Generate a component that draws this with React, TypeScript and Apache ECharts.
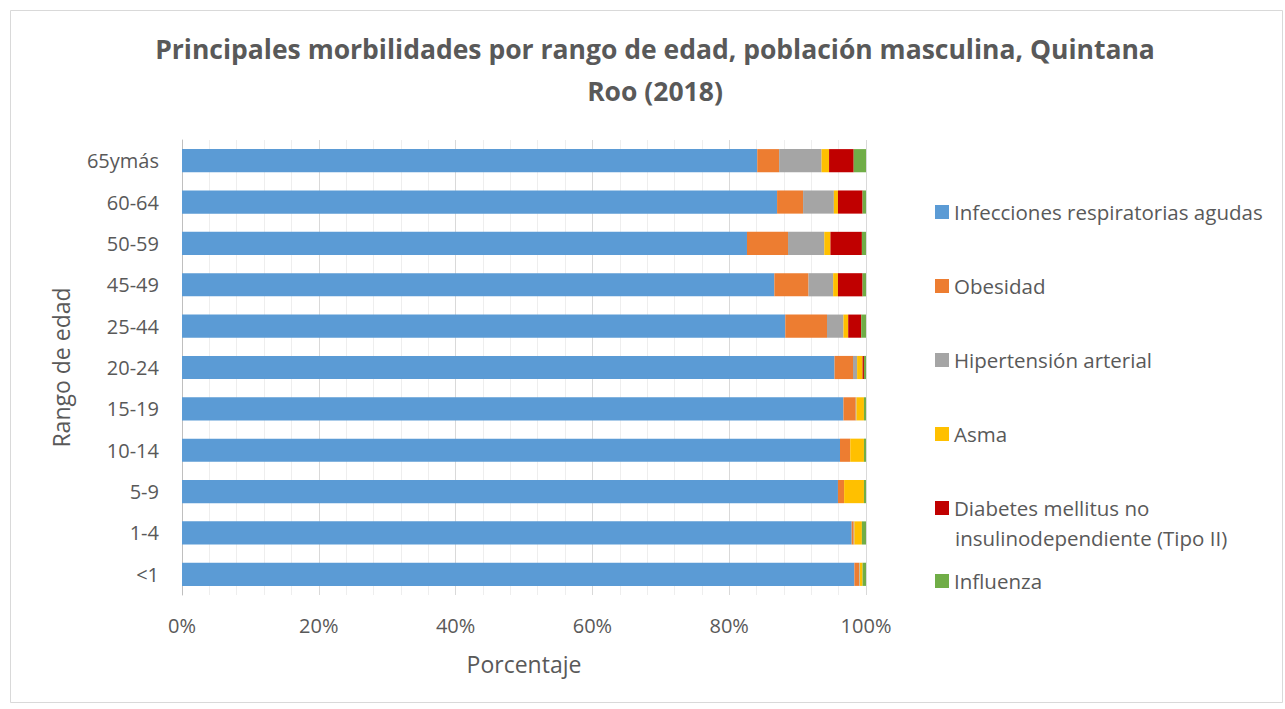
import React, { useEffect, useRef } from "react";
import * as echarts from "echarts";

const categories = ["<1", "1-4", "5-9", "10-14", "15-19", "20-24", "25-44", "45-49", "50-59", "60-64", "65ymás"];
const seriesNames = [
  "Infecciones respiratorias agudas",
  "Obesidad",
  "Hipertensión arterial",
  "Asma",
  "Diabetes mellitus no insulinodependiente (Tipo II)",
  "Influenza",
];
const infecciones = [98.3, 97.9, 95.9, 96.2, 96.7, 95.4, 88.2, 86.6, 82.6, 87.0, 84.1];
const obesidad = [0.7, 0.3, 0.9, 1.5, 1.8, 2.7, 6.1, 5.0, 6.0, 3.8, 3.2];
const hipertension = [0.1, 0.1, 0.0, 0.0, 0.1, 0.6, 2.4, 3.6, 5.3, 4.5, 6.2];
const asma = [0.4, 1.1, 2.9, 2.0, 1.1, 0.8, 0.7, 0.7, 0.9, 0.6, 1.1];
const diabetes = [0.0, 0.0, 0.0, 0.0, 0.0, 0.2, 1.9, 3.6, 4.6, 3.6, 3.6];
const influenza = [0.5, 0.6, 0.3, 0.3, 0.3, 0.3, 0.7, 0.5, 0.6, 0.5, 1.8];
const xTicks = [0, 20, 40, 60, 80, 100];
const colors = ["#5B9BD5", "#ED7D31", "#A5A5A5", "#FFC000", "#C00000", "#70AD47"];
const values = [infecciones, obesidad, hipertension, asma, diabetes, influenza];

const FONT = "'Open Sans', 'Noto Sans', sans-serif";
const TXT = "#595959";

export default function App() {
  const ref = useRef<HTMLDivElement>(null);
  useEffect(() => {
    if (!ref.current) return;
    const chart = echarts.init(ref.current, null, { renderer: "svg" });
    const legendTops = [201, 275, 349, 423, 497, 570];
    const legends = seriesNames.map((name, i) => ({
      orient: "vertical" as const,
      left: 935,
      top: legendTops[i],
      data: [name],
      itemWidth: 14,
      itemHeight: 14,
      itemGap: 0,
      padding: 0,
      icon: "rect",
      selectedMode: false,
      formatter: (n: string) => (n.startsWith("Diabetes") ? "Diabetes mellitus no" : n),
      textStyle: { color: TXT, fontSize: 20.5, fontFamily: FONT, lineHeight: 22 },
    }));
    chart.setOption({
      animation: false,
      backgroundColor: "#fff",
      title: {
        text: "Principales morbilidades por rango de edad, población masculina, Quintana\nRoo (2018)",
        left: 650,
        top: 23,
        textAlign: "center",
        textStyle: { color: TXT, fontSize: 26.5, fontWeight: "bold", fontFamily: FONT, lineHeight: 42 },
      },
      legend: legends,
      graphic: [
        {
          type: "rect",
          shape: { x: 10.5, y: 10.5, width: 1272, height: 692 },
          style: { fill: "none", stroke: "#D9D9D9", lineWidth: 1 },
          silent: true,
        },
        {
          type: "text",
          left: 955,
          top: 527,
          style: { text: "insulinodependiente (Tipo II)", fill: TXT, font: `20.5px ${FONT}`, lineHeight: 22 },
          silent: true,
        },
      ],
      grid: { left: 182, right: 1285 - 866, top: 140, bottom: 709 - 595, containLabel: false },
      xAxis: {
        type: "value",
        min: 0,
        max: 100,
        interval: 20,
        name: "Porcentaje",
        nameLocation: "middle",
        nameGap: 57,
        nameTextStyle: { color: TXT, fontSize: 23, fontFamily: FONT },
        axisLine: { show: false },
        axisTick: { show: false },
        axisLabel: {
          color: TXT,
          fontSize: 20,
          fontFamily: FONT,
          margin: 20,
          formatter: (v: number) => (xTicks.includes(v) ? v + "%" : ""),
        },
        splitLine: { show: true, lineStyle: { color: "#D9D9D9", width: 1 } },
        minorSplitLine: { show: true, lineStyle: { color: "#EEEEEE", width: 1 } },
        minorTick: { show: false, splitNumber: 5 },
      },
      yAxis: {
        type: "category",
        data: categories,
        name: "Rango de edad",
        nameLocation: "middle",
        nameGap: 110,
        nameRotate: 90,
        nameTextStyle: { color: TXT, fontSize: 23, fontFamily: FONT },
        axisLine: { show: true, lineStyle: { color: "#BFBFBF" } },
        axisTick: { show: false },
        axisLabel: { color: TXT, fontSize: 20, fontFamily: FONT, margin: 23 },
      },
      series: seriesNames.map((name, i) => ({
        name,
        type: "bar",
        stack: "total",
        data: values[i],
        barCategoryGap: "44%",
        itemStyle: { color: colors[i] },
      })),
    });
    return () => chart.dispose();
  }, []);
  return <div ref={ref} style={{ position: "fixed", left: 0, top: 0, width: 1285, height: 709 }} />;
}
